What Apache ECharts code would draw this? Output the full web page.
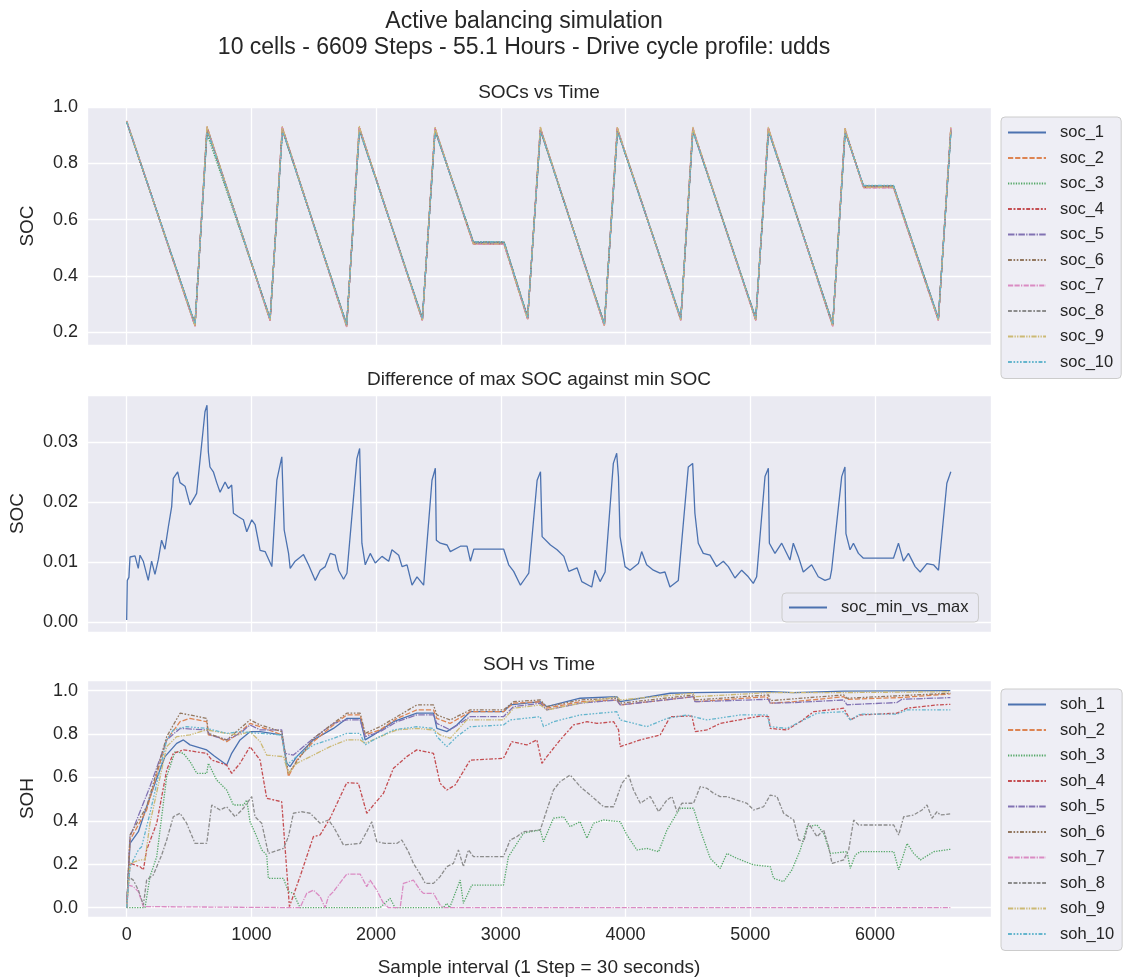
<!DOCTYPE html>
<html>
<head>
<meta charset="utf-8">
<title>Active balancing simulation</title>
<script src="https://cdn.jsdelivr.net/npm/echarts@6/dist/echarts.min.js"></script>
<style>
  html, body { margin: 0; padding: 0; background: #fff; }
  #chart { width: 1126px; height: 979px; }
</style>
</head>
<body>
<div id="chart"></div>
<script>
// ---- SOC per cell (sampled at the turning points of each cycle) ----
const SOC_T = [0, 548, 644, 660, 1150, 1248, 1262, 1764, 1865, 1880, 2371, 2472, 2487, 2780, 3026, 3215, 3317, 3332,
  3830, 3934, 3948, 4443, 4539, 4553, 5044, 5145, 5159, 5661, 5760, 5774, 5907, 6148, 6508, 6608];
const SOC_1 = [0.948,0.228,0.912,0.902,0.247,0.914,0.903,0.226,0.915,0.903,0.248,0.912,0.900,0.519,0.519,0.252,0.912,0.900,0.229,0.913,0.901,0.248,0.912,0.900,0.248,0.911,0.900,0.228,0.910,0.897,0.719,0.719,0.248,0.912];
const SOC_2 = [0.950,0.224,0.925,0.906,0.243,0.926,0.906,0.222,0.927,0.906,0.244,0.923,0.903,0.515,0.515,0.248,0.923,0.903,0.225,0.923,0.903,0.244,0.923,0.903,0.244,0.922,0.902,0.224,0.919,0.899,0.716,0.716,0.244,0.923];
const SOC_3 = [0.946,0.230,0.906,0.899,0.249,0.908,0.900,0.229,0.908,0.900,0.250,0.906,0.898,0.521,0.521,0.254,0.906,0.897,0.231,0.906,0.898,0.250,0.906,0.898,0.250,0.906,0.897,0.230,0.904,0.894,0.721,0.721,0.250,0.906];
const SOC_4 = [0.949,0.222,0.930,0.908,0.242,0.929,0.908,0.220,0.930,0.908,0.243,0.927,0.905,0.513,0.513,0.246,0.927,0.905,0.223,0.928,0.905,0.243,0.927,0.905,0.243,0.927,0.905,0.222,0.924,0.901,0.714,0.714,0.243,0.927];
const SOC_5 = [0.948,0.226,0.920,0.905,0.245,0.921,0.905,0.224,0.921,0.905,0.246,0.918,0.902,0.517,0.517,0.250,0.918,0.902,0.227,0.918,0.902,0.246,0.918,0.902,0.246,0.917,0.902,0.226,0.915,0.898,0.718,0.718,0.246,0.918];
const SOC_6 = [0.947,0.229,0.910,0.901,0.248,0.911,0.901,0.227,0.911,0.901,0.249,0.909,0.899,0.520,0.520,0.253,0.909,0.899,0.230,0.909,0.899,0.249,0.909,0.899,0.249,0.909,0.899,0.229,0.907,0.895,0.720,0.720,0.249,0.909];
const SOC_7 = [0.951,0.221,0.928,0.907,0.242,0.928,0.907,0.219,0.929,0.907,0.242,0.926,0.904,0.512,0.512,0.246,0.926,0.904,0.222,0.926,0.904,0.242,0.926,0.904,0.242,0.925,0.904,0.221,0.922,0.900,0.713,0.713,0.242,0.926];
const SOC_8 = [0.948,0.227,0.917,0.904,0.246,0.918,0.904,0.225,0.918,0.904,0.247,0.916,0.901,0.518,0.518,0.251,0.916,0.901,0.228,0.916,0.901,0.247,0.916,0.901,0.247,0.915,0.901,0.227,0.913,0.897,0.719,0.719,0.247,0.916];
const SOC_9 = [0.950,0.223,0.932,0.909,0.243,0.932,0.909,0.221,0.933,0.909,0.244,0.929,0.906,0.514,0.514,0.247,0.929,0.906,0.224,0.929,0.906,0.244,0.929,0.906,0.244,0.929,0.906,0.223,0.926,0.902,0.715,0.715,0.244,0.929];
const SOC_10 = [0.947,0.230,0.908,0.900,0.249,0.909,0.900,0.228,0.909,0.900,0.250,0.907,0.898,0.521,0.521,0.253,0.907,0.898,0.230,0.907,0.898,0.250,0.907,0.898,0.250,0.907,0.898,0.229,0.905,0.894,0.722,0.722,0.250,0.907];

// ---- max SOC - min SOC ----
const DIFF_T = [0,5,18,27,67,93,107,133,173,200,227,254,280,307,334,361,374,409,428,468,508,548,561,628,644,655,668,695,722,749,789,816,842,856,896,936,963,1003,1030,1070,1110,1164,1204,1244,1263,1298,1311,1351,1418,1458,1512,1552,1592,1632,1672,1699,1739,1766,1846,1868,1886,1913,1953,1993,2047,2101,2127,2181,2208,2248,2288,2328,2381,2448,2475,2483,2515,2569,2595,2676,2729,2756,2783,3023,3063,3103,3157,3197,3224,3291,3318,3331,3398,3451,3505,3545,3611,3649,3729,3756,3796,3836,3902,3929,3943,3956,3996,4036,4103,4129,4169,4223,4276,4316,4356,4423,4503,4538,4556,4583,4623,4677,4730,4784,4824,4877,4931,4984,5024,5051,5118,5145,5153,5198,5252,5318,5345,5385,5425,5492,5545,5599,5639,5652,5733,5759,5767,5800,5827,5867,5907,6148,6188,6228,6268,6322,6362,6416,6469,6509,6576,6608];
const DIFF_V = [0.0004,0.0070,0.0075,0.0109,0.0111,0.0090,0.0112,0.0102,0.0070,0.0102,0.0080,0.0105,0.0137,0.0122,0.0159,0.0193,0.0240,0.0251,0.0233,0.0227,0.0196,0.0210,0.0215,0.0351,0.0362,0.0284,0.0259,0.0251,0.0233,0.0217,0.0234,0.0223,0.0229,0.0182,0.0176,0.0171,0.0151,0.0171,0.0163,0.0120,0.0118,0.0093,0.0237,0.0276,0.0154,0.0115,0.0090,0.0102,0.0113,0.0096,0.0070,0.0087,0.0093,0.0115,0.0112,0.0087,0.0072,0.0082,0.0273,0.0290,0.0132,0.0096,0.0115,0.0099,0.0110,0.0102,0.0121,0.0112,0.0093,0.0096,0.0062,0.0076,0.0062,0.0237,0.0257,0.0137,0.0132,0.0129,0.0118,0.0127,0.0127,0.0102,0.0122,0.0122,0.0096,0.0085,0.0062,0.0074,0.0082,0.0237,0.0251,0.0143,0.0129,0.0121,0.0110,0.0085,0.0091,0.0068,0.0059,0.0087,0.0068,0.0084,0.0265,0.0282,0.0243,0.0143,0.0093,0.0087,0.0098,0.0118,0.0096,0.0087,0.0082,0.0084,0.0059,0.0070,0.0259,0.0265,0.0182,0.0132,0.0115,0.0112,0.0093,0.0102,0.0093,0.0074,0.0087,0.0076,0.0065,0.0076,0.0243,0.0257,0.0132,0.0115,0.0132,0.0104,0.0132,0.0110,0.0084,0.0096,0.0076,0.0070,0.0073,0.0087,0.0243,0.0259,0.0148,0.0121,0.0132,0.0115,0.0107,0.0107,0.0132,0.0102,0.0115,0.0093,0.0084,0.0098,0.0096,0.0087,0.0232,0.0251];

// ---- SOH per cell: [step, soh] ----
const SOH_1 = [[0,0],[27,0.296],[94,0.35],[160,0.465],[227,0.573],[307,0.696],[401,0.757],[455,0.773],[508,0.75],[642,0.727],[700,0.70],[802,0.657],[842,0.711],[909,0.773],[989,0.811],[1070,0.811],[1243,0.796],[1283,0.665],[1310,0.65],[1364,0.696],[1497,0.773],[1658,0.826],[1765,0.872],[1872,0.872],[1912,0.773],[1979,0.796],[2139,0.857],[2326,0.896],[2460,0.896],[2487,0.826],[2567,0.811],[2647,0.842],[2754,0.903],[3021,0.903],[3075,0.934],[3316,0.949],[3369,0.926],[3636,0.965],[3930,0.972],[3957,0.949],[4358,0.988],[4545,0.991],[4556,0.985],[5160,0.995],[5348,0.991],[5749,0.998],[6604,1.0]];
const SOH_2 = [[0,0],[27,0.312],[160,0.45],[321,0.773],[428,0.857],[508,0.872],[642,0.857],[655,0.796],[722,0.788],[802,0.765],[882,0.796],[989,0.849],[1070,0.834],[1243,0.796],[1297,0.604],[1364,0.68],[1497,0.765],[1658,0.842],[1765,0.888],[1872,0.888],[1912,0.796],[2032,0.819],[2166,0.872],[2326,0.911],[2460,0.911],[2487,0.872],[2594,0.849],[2754,0.903],[3021,0.903],[3102,0.942],[3316,0.949],[3369,0.919],[3636,0.949],[3930,0.957],[3957,0.934],[4545,0.972],[4556,0.949],[5134,0.972],[5160,0.942],[5348,0.949],[5749,0.972],[5775,0.96],[6203,0.968],[6604,0.985]];
const SOH_3 = [[0,0],[147,0],[187,0.143],[241,0.235],[321,0.604],[388,0.719],[455,0.711],[508,0.673],[562,0.619],[642,0.619],[655,0.665],[722,0.588],[802,0.542],[856,0.473],[936,0.473],[963,0.496],[989,0.396],[1043,0.327],[1083,0.266],[1123,0.243],[1136,0.135],[1257,0.135],[1297,0.074],[1337,0.066],[1390,0],[2032,0],[2112,0.043],[2152,0],[2540,0],[2567,0.02],[2590,0],[2674,0.127],[2700,0.02],[2767,0.104],[3021,0.104],[3061,0.235],[3182,0.343],[3316,0.358],[3342,0.304],[3422,0.412],[3503,0.419],[3556,0.373],[3636,0.396],[3690,0.32],[3743,0.389],[3824,0.404],[3957,0.396],[4011,0.335],[4091,0.266],[4171,0.273],[4265,0.258],[4332,0.358],[4412,0.435],[4439,0.458],[4545,0.458],[4599,0.358],[4679,0.227],[4759,0.181],[4813,0.25],[4893,0.227],[5027,0.197],[5160,0.189],[5187,0.135],[5267,0.12],[5334,0.174],[5401,0.266],[5455,0.373],[5535,0.381],[5588,0.343],[5642,0.25],[5775,0.258],[5802,0.181],[5842,0.243],[5882,0.258],[6150,0.258],[6190,0.174],[6257,0.296],[6310,0.25],[6364,0.22],[6471,0.258],[6604,0.269]];
const SOH_4 = [[0,0],[27,0.204],[107,0.189],[134,0.174],[160,0.266],[241,0.389],[321,0.634],[374,0.711],[455,0.727],[642,0.711],[682,0.68],[802,0.657],[842,0.619],[909,0.665],[989,0.742],[1070,0.68],[1123,0.504],[1243,0.488],[1305,0.005],[1390,0.143],[1497,0.327],[1551,0.335],[1631,0.412],[1765,0.576],[1858,0.573],[1925,0.435],[1979,0.473],[2059,0.527],[2139,0.642],[2246,0.696],[2326,0.727],[2460,0.711],[2513,0.573],[2567,0.542],[2634,0.565],[2754,0.68],[3021,0.688],[3088,0.765],[3209,0.75],[3289,0.773],[3329,0.665],[3369,0.696],[3476,0.773],[3583,0.842],[3690,0.857],[3770,0.849],[3904,0.857],[3944,0.819],[3957,0.742],[4118,0.773],[4278,0.796],[4358,0.88],[4532,0.883],[4559,0.811],[4652,0.819],[4759,0.849],[5080,0.883],[5147,0.88],[5160,0.826],[5294,0.819],[5401,0.857],[5508,0.903],[5749,0.919],[5802,0.865],[5882,0.888],[6176,0.896],[6257,0.919],[6497,0.934],[6604,0.937]];
const SOH_5 = [[0,0],[27,0.327],[187,0.558],[321,0.773],[428,0.826],[642,0.819],[668,0.796],[802,0.773],[909,0.803],[989,0.842],[1070,0.819],[1243,0.819],[1270,0.711],[1337,0.703],[1497,0.78],[1658,0.849],[1765,0.865],[1872,0.865],[1912,0.788],[2032,0.811],[2166,0.857],[2326,0.888],[2460,0.888],[2487,0.849],[2594,0.819],[2754,0.88],[3021,0.88],[3102,0.926],[3316,0.942],[3369,0.911],[3636,0.942],[3930,0.957],[3957,0.934],[4545,0.972],[4556,0.949],[5147,0.96],[5160,0.942],[5348,0.945],[5749,0.957],[5775,0.935],[6176,0.945],[6216,0.96],[6604,0.968]];
const SOH_6 = [[0,0],[27,0.335],[160,0.465],[321,0.788],[428,0.896],[508,0.888],[642,0.872],[655,0.803],[802,0.773],[989,0.865],[1070,0.842],[1243,0.811],[1297,0.619],[1497,0.78],[1765,0.896],[1872,0.896],[1912,0.803],[2032,0.834],[2326,0.934],[2460,0.934],[2487,0.888],[2594,0.865],[2754,0.911],[3021,0.911],[3102,0.949],[3316,0.957],[3369,0.926],[3636,0.957],[3930,0.965],[3957,0.942],[4545,0.98],[4556,0.957],[5147,0.98],[5160,0.954],[5749,0.98],[5775,0.965],[6604,0.988]];
const SOH_7 = [[0,0],[13,0.104],[53,0.097],[94,0.074],[134,0.005],[150,0],[1390,0],[1444,0.066],[1497,0.081],[1551,0.051],[1591,0],[1618,0.051],[1658,0.074],[1765,0.155],[1872,0.155],[1925,0.097],[1952,0.127],[2005,0.081],[2059,0.02],[2099,0],[2193,0],[2219,0.112],[2299,0.127],[2353,0.081],[2380,0.066],[2460,0.066],[2513,0.012],[2540,0],[6604,0]];
const SOH_8 = [[0,0],[13,0.143],[53,0.127],[94,0.081],[134,0.012],[160,0.127],[214,0.151],[281,0.243],[321,0.312],[374,0.419],[428,0.435],[481,0.389],[548,0.296],[642,0.296],[682,0.473],[749,0.45],[802,0.465],[869,0.419],[936,0.458],[1003,0.512],[1029,0.419],[1083,0.389],[1136,0.25],[1257,0.273],[1297,0.327],[1337,0.435],[1404,0.442],[1471,0.435],[1551,0.389],[1618,0.404],[1658,0.373],[1738,0.289],[1872,0.296],[1925,0.35],[1965,0.396],[2005,0.304],[2072,0.296],[2166,0.296],[2206,0.312],[2259,0.258],[2299,0.204],[2366,0.143],[2393,0.112],[2460,0.112],[2513,0.143],[2567,0.189],[2620,0.204],[2660,0.266],[2700,0.189],[2740,0.266],[2781,0.235],[3021,0.235],[3075,0.312],[3128,0.327],[3182,0.35],[3316,0.358],[3369,0.45],[3422,0.542],[3476,0.581],[3556,0.611],[3636,0.558],[3717,0.519],[3824,0.465],[3904,0.465],[3971,0.573],[4024,0.611],[4064,0.542],[4118,0.481],[4198,0.512],[4265,0.442],[4332,0.496],[4372,0.512],[4412,0.442],[4452,0.481],[4545,0.481],[4599,0.558],[4652,0.55],[4706,0.527],[4759,0.512],[4813,0.512],[4893,0.496],[4973,0.481],[5027,0.45],[5107,0.465],[5160,0.519],[5214,0.512],[5267,0.435],[5348,0.404],[5388,0.312],[5428,0.304],[5468,0.389],[5535,0.327],[5588,0.358],[5628,0.281],[5655,0.204],[5749,0.22],[5789,0.266],[5829,0.404],[5869,0.381],[6150,0.381],[6190,0.335],[6230,0.419],[6310,0.427],[6377,0.45],[6417,0.473],[6457,0.412],[6497,0.442],[6524,0.427],[6604,0.432]];
const SOH_9 = [[0,0],[27,0.204],[107,0.22],[147,0.22],[187,0.389],[321,0.742],[401,0.788],[508,0.796],[642,0.819],[802,0.803],[896,0.796],[989,0.811],[1070,0.765],[1123,0.703],[1257,0.696],[1297,0.619],[1364,0.665],[1497,0.703],[1631,0.742],[1765,0.773],[1872,0.773],[1912,0.757],[2032,0.788],[2166,0.819],[2326,0.826],[2460,0.819],[2513,0.796],[2594,0.78],[2727,0.865],[3021,0.865],[3102,0.919],[3316,0.934],[3369,0.911],[3636,0.942],[3930,0.972],[3957,0.957],[4545,0.988],[4556,0.972],[5160,0.991],[5749,0.991],[6604,0.995]];
const SOH_10 = [[0,0],[27,0.189],[94,0.266],[120,0.281],[187,0.435],[321,0.773],[374,0.819],[481,0.834],[642,0.826],[802,0.803],[909,0.811],[1070,0.803],[1243,0.796],[1283,0.657],[1364,0.696],[1497,0.75],[1658,0.78],[1765,0.803],[1872,0.803],[1912,0.75],[1979,0.773],[2139,0.819],[2326,0.834],[2460,0.826],[2487,0.788],[2567,0.742],[2647,0.788],[2754,0.834],[3021,0.842],[3075,0.865],[3316,0.88],[3342,0.834],[3422,0.857],[3636,0.888],[3930,0.903],[3957,0.865],[4171,0.834],[4332,0.872],[4492,0.888],[4545,0.88],[4652,0.865],[4920,0.888],[5134,0.888],[5160,0.834],[5294,0.826],[5401,0.857],[5535,0.896],[5749,0.903],[5802,0.865],[5882,0.892],[6176,0.892],[6257,0.911],[6604,0.911]];

const SOC_NAMES = ["soc_1","soc_2","soc_3","soc_4","soc_5","soc_6","soc_7","soc_8","soc_9","soc_10"];
const SOH_NAMES = ["soh_1","soh_2","soh_3","soh_4","soh_5","soh_6","soh_7","soh_8","soh_9","soh_10"];
const SOC_ALL = [SOC_1, SOC_2, SOC_3, SOC_4, SOC_5, SOC_6, SOC_7, SOC_8, SOC_9, SOC_10];
const SOH_ALL = [SOH_1, SOH_2, SOH_3, SOH_4, SOH_5, SOH_6, SOH_7, SOH_8, SOH_9, SOH_10];

// seaborn "deep" palette + default dash list
const COLORS = ["#4C72B0","#DD8452","#55A868","#C44E52","#8172B3","#937860","#DA8BC3","#8C8C8C","#CCB974","#64B5CD"];
const DASHES = [null, [4,1.5], [1,1], [3,1.25,1.5,1.25], [5,1,1,1], [3,1.25,1.25,1.25,1.25,1.25],
  [4,1,4,1,1,1], [3,1.25,3,1.25,1.25,1.25], [4,1,1,1,1,1], [3,1.25,1.25,1.25,1.25,1.25,1.25,1.25]];
const LW = 1.3;
const FONT = "'Liberation Sans', Arial, sans-serif";
const INK = "#262626";

const lineType = i => DASHES[i] ? DASHES[i].map(d => d * LW) : "solid";

const tickFmt = (step, digits) => v => {
  const k = v / step;
  return Math.abs(k - Math.round(k)) < 1e-6 ? v.toFixed(digits) : "";
};

const xAxisBase = {
  type: "value", min: -318, max: 6930, splitNumber: 7,
  axisLine: { show: false }, axisTick: { show: false },
  splitLine: { lineStyle: { color: "#ffffff", width: 1.3 } }
};
const yAxisBase = {
  type: "value",
  axisLine: { show: false }, axisTick: { show: false },
  splitLine: { lineStyle: { color: "#ffffff", width: 1.3 } },
  nameLocation: "middle", nameRotate: 90,
  nameTextStyle: { color: INK, fontSize: 19, fontFamily: FONT }
};
const labelStyle = { color: INK, fontSize: 18, fontFamily: FONT, margin: 9 };

// legend shows only the line sample, no marker
const legendBase = {
  orient: "vertical",
  itemWidth: 38, itemHeight: 14, itemGap: 8.5,
  padding: [7, 8, 8, 6],
  backgroundColor: "rgba(234,234,242,0.8)",
  borderColor: "#cccccc", borderWidth: 1, borderRadius: 4,
  itemStyle: { opacity: 0 },
  textStyle: { color: INK, fontSize: 16.5, fontFamily: FONT, padding: [0, 0, 0, 9] }
};

const series = [];
SOC_ALL.forEach((vals, i) => {
  series.push({
    name: SOC_NAMES[i], type: "line", xAxisIndex: 0, yAxisIndex: 0,
    symbol: "none", animation: false,
    data: SOC_T.map((t, j) => [t, vals[j]]),
    lineStyle: { color: COLORS[i], width: LW, type: lineType(i) },
    itemStyle: { color: COLORS[i] }
  });
});
series.push({
  name: "soc_min_vs_max", type: "line", xAxisIndex: 1, yAxisIndex: 1,
  symbol: "none", animation: false,
  data: DIFF_T.map((t, j) => [t, DIFF_V[j]]),
  lineStyle: { color: COLORS[0], width: LW },
  itemStyle: { color: COLORS[0] }
});
SOH_ALL.forEach((pts, i) => {
  series.push({
    name: SOH_NAMES[i], type: "line", xAxisIndex: 2, yAxisIndex: 2,
    symbol: "none", animation: false,
    data: pts,
    lineStyle: { color: COLORS[i], width: LW, type: lineType(i) },
    itemStyle: { color: COLORS[i] }
  });
});

const titleText = (text, x, y, size) => ({
  type: "text", x: x, y: y, silent: true,
  style: { text: text, fill: INK, fontSize: size, fontFamily: FONT, align: "center", verticalAlign: "middle" }
});

const option = {
  animation: false,
  backgroundColor: "#ffffff",
  grid: [
    { left: 87, top: 107, width: 904, height: 238, show: true, backgroundColor: "#EAEAF2", borderWidth: 0 },
    { left: 87, top: 395, width: 904, height: 237, show: true, backgroundColor: "#EAEAF2", borderWidth: 0 },
    { left: 87, top: 680, width: 904, height: 237, show: true, backgroundColor: "#EAEAF2", borderWidth: 0 }
  ],
  xAxis: [
    Object.assign({}, xAxisBase, { gridIndex: 0, axisLabel: { show: false } }),
    Object.assign({}, xAxisBase, { gridIndex: 1, axisLabel: { show: false } }),
    Object.assign({}, xAxisBase, {
      gridIndex: 2,
      axisLabel: Object.assign({}, labelStyle, { formatter: tickFmt(1000, 0), showMinLabel: false, showMaxLabel: false }),
      name: "Sample interval (1 Step = 30 seconds)", nameLocation: "middle", nameGap: 41,
      nameTextStyle: { color: INK, fontSize: 19, fontFamily: FONT }
    })
  ],
  yAxis: [
    Object.assign({}, yAxisBase, { gridIndex: 0, min: 0.155, max: 1.0, name: "SOC", nameGap: 50,
      axisLabel: Object.assign({}, labelStyle, { formatter: tickFmt(0.2, 1) }) }),
    Object.assign({}, yAxisBase, { gridIndex: 1, min: -0.0016, max: 0.0379, name: "SOC", nameGap: 60,
      axisLabel: Object.assign({}, labelStyle, { formatter: tickFmt(0.01, 2) }) }),
    Object.assign({}, yAxisBase, { gridIndex: 2, min: -0.043, max: 1.049, name: "SOH", nameGap: 50,
      axisLabel: Object.assign({}, labelStyle, { formatter: tickFmt(0.2, 1) }) })
  ],
  legend: [
    Object.assign({}, legendBase, { left: 1001, top: 117, data: SOC_NAMES }),
    Object.assign({}, legendBase, { left: 782, top: 593, data: ["soc_min_vs_max"], padding: [6, 10, 6, 6] }),
    Object.assign({}, legendBase, { left: 1001, top: 689, data: SOH_NAMES })
  ],
  graphic: [
    titleText("Active balancing simulation", 524, 22, 23),
    titleText("10 cells - 6609 Steps - 55.1 Hours - Drive cycle profile: udds", 524, 48, 23),
    titleText("SOCs vs Time", 539, 93, 19),
    titleText("Difference of max SOC against min SOC", 539, 380, 19),
    titleText("SOH vs Time", 539, 665, 19)
  ],
  series: series
};

const chart = echarts.init(document.getElementById("chart"), null, { renderer: "canvas" });
chart.setOption(option);
</script>
</body>
</html>
